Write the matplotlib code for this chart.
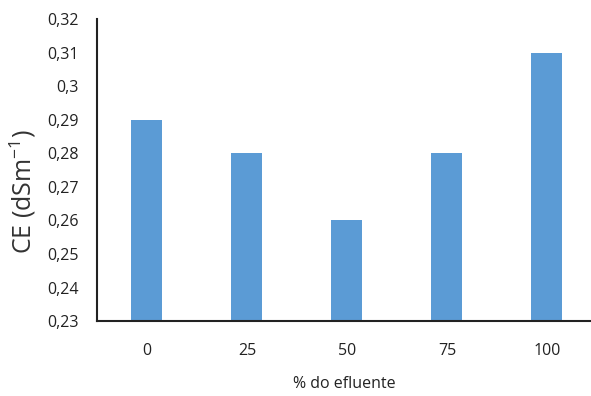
import matplotlib.pyplot as plt
import numpy as np

# Dados
efluente = ['0', '25', '50', '75', '100']
ce = [0.29, 0.28, 0.26, 0.28, 0.31]
y_ticks = [0.23, 0.24, 0.25, 0.26, 0.27, 0.28, 0.29, 0.30, 0.31, 0.32]
y_labels = ['0,23', '0,24', '0,25', '0,26', '0,27', '0,28', '0,29', '0,3', '0,31', '0,32']

plt.rcParams['font.family'] = ['Open Sans', 'DejaVu Sans']

fig = plt.figure(figsize=(5.91, 3.96), dpi=100)
ax = fig.add_axes([0.164, 0.189, 0.836, 0.763])

x = np.arange(len(efluente))
ax.bar(x, ce, width=0.31, color='#5B9BD5')

ax.set_ylim(0.23, 0.32)
ax.set_xlim(-0.5, 4.44)
ax.set_yticks(y_ticks)
ax.set_yticklabels(y_labels, fontsize=11.5, color='#222222')
ax.set_xticks(x)
ax.set_xticklabels(efluente, fontsize=11.5, color='#222222')
ax.tick_params(axis='y', length=0, pad=13)
ax.tick_params(axis='x', length=0, pad=16)

for s in ['top', 'right']:
    ax.spines[s].set_visible(False)
for s in ['left', 'bottom']:
    ax.spines[s].set_linewidth(1.5)
    ax.spines[s].set_color('#222222')

ax.set_ylabel('CE (dSm$^{\\mathdefault{-1}}$)', fontsize=18, color='#333333')
ax.yaxis.set_label_coords(-0.12, 0.43)
ax.set_xlabel('% do efluente', fontsize=11.5, color='#222222', labelpad=12)

fig.savefig('out.png', dpi=100)
